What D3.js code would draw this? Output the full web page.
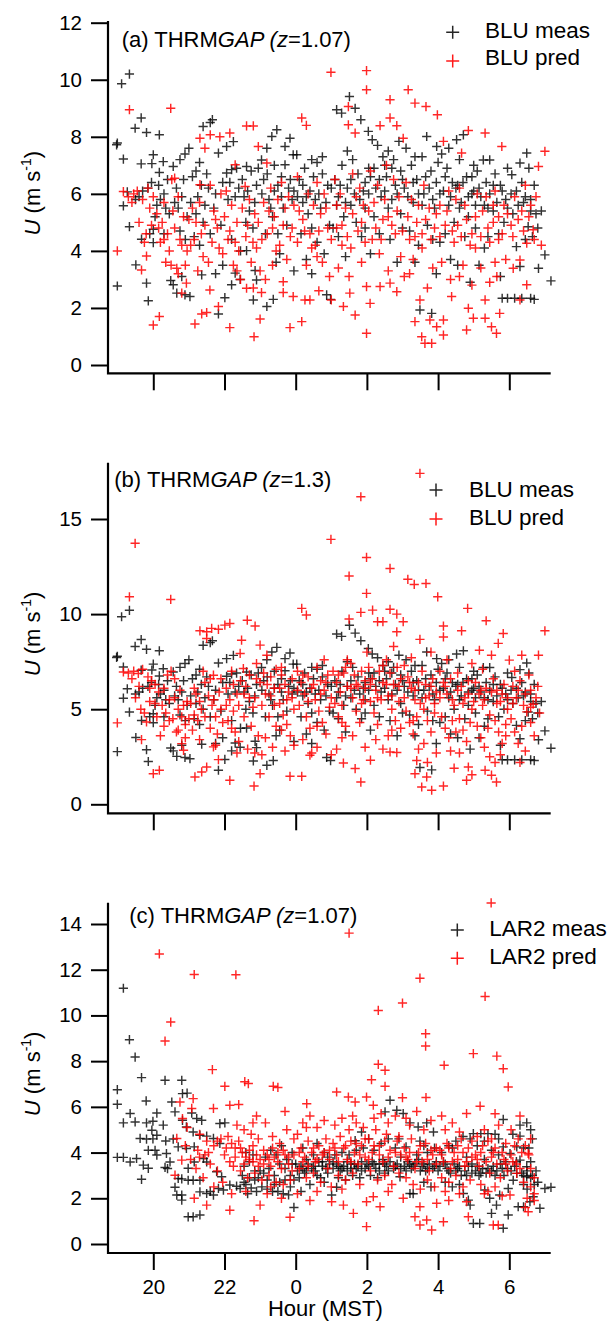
<!DOCTYPE html>
<html><head><meta charset="utf-8">
<script src="https://cdn.jsdelivr.net/npm/d3@7"></script>
<style>body{margin:0;background:#fff}svg{display:block}</style>
</head><body><svg id="chart" width="612" height="1324"></svg>
<script>
// ---------- DATA (hour of night, continuous: 24 = 0 h MST next day; U in m/s) ----------
const hourTickValues = [20, 22, 24, 26, 28, 30];
const hourTickLabels = ["20", "22", "0", "2", "4", "6"];
const yTicksA = [0, 2, 4, 6, 8, 10, 12];
const yTicksB = [0, 5, 10, 15];
const yTicksC = [0, 2, 4, 6, 8, 10, 12, 14];

const bluMeas = [
[18.99,7.78],[18.97,7.72],[19.16,7.22],[19.11,9.86],[19.33,10.2],[19.16,5.58],[19.33,4.85],[19.51,3.51],[18.99,2.77],[19.27,6.07],[19.49,8.3],[19.66,8.66],[19.67,4.41],
[19.81,8.15],[19.66,7.05],[19.81,2.87],[19.86,2.25],[20.0,4.29],[20.0,4.76],[20.0,7.37],[19.96,7.06],[19.7,6.1],[19.85,6.2],[19.6,5.9],[19.9,4.6],
[20.17,8.07],[20.28,7.13],[20.17,6.75],[20.56,6.96],[20.49,2.96],[20.1,5.6],[20.2,5.8],[20.35,5.5],[20.45,5.3],[20.3,6.0],[20.3,4.6],[20.05,5.2],
[20.75,7.2],[20.89,7.4],[21.0,7.6],[20.66,2.52],[20.56,2.81],[20.89,2.46],[21.03,2.4],[20.6,5.7],[20.7,5.5],[20.8,5.9],[20.9,4.4],[20.75,4.7],[20.95,5.2],[20.8,3.1],
[21.3,7.1],[21.4,8.36],[21.36,3.16],[21.1,6.6],[21.2,6.8],[21.25,5.9],[21.4,5.0],[21.15,4.5],[21.3,4.2],[21.45,5.6],
[21.6,8.5],[21.66,8.6],[21.83,7.43],[21.83,1.79],[21.55,6.2],[21.7,5.5],[21.6,4.6],[21.9,4.9],[21.95,3.5],[21.75,3.2],
[22.06,7.66],[22.25,7.83],[22.06,6.73],[22.2,6.85],[22.34,6.9],[22.01,2.36],[22.2,2.81],[22.3,3.22],[22.1,5.8],[22.4,6.2],[22.2,4.4],[22.45,4.0],[22.44,3.0],
[22.62,6.96],[22.75,6.8],[22.62,4.01],[22.86,3.31],[22.9,2.98],[22.81,2.28],[22.7,5.4],[22.55,5.9],[22.9,6.3],[22.8,4.8],
[23.04,7.19],[23.19,7.6],[23.33,8.01],[23.47,8.25],[23.19,2.05],[23.37,2.3],[23.1,6.5],[23.25,5.8],[23.4,6.1],[23.15,4.6],[23.35,5.2],[23.45,3.6],
[23.7,7.66],[23.84,7.95],[23.93,7.37],[23.7,7.02],[23.6,6.6],[23.8,6.2],[23.65,5.5],[23.9,5.8],[23.75,4.9],[23.55,3.9],[23.95,3.3],
[24.03,7.37],[24.1,6.5],[24.25,6.9],[24.2,5.7],[24.4,6.1],[24.35,5.3],[24.15,4.6],[24.3,3.7],[24.45,3.2],[24.45,7.2],
[24.87,2.46],[24.98,2.3],[24.6,7.1],[24.75,6.7],[24.9,6.3],[24.55,5.8],[24.7,5.5],[24.6,4.3],[24.8,3.9],[24.95,4.9],
[25.15,8.95],[25.29,8.83],[25.51,9.41],[25.1,6.5],[25.3,7.0],[25.2,5.9],[25.45,6.2],[25.35,5.2],[25.05,4.8],[25.4,3.8],[25.45,7.5],
[25.67,9.0],[25.83,8.6],[26.04,8.19],[25.6,7.2],[25.75,6.7],[25.9,6.1],[25.55,5.6],[25.85,4.5],[25.7,5.0],[25.95,6.4],
[26.15,7.9],[26.3,7.7],[26.45,7.3],[26.1,6.6],[26.25,6.2],[26.4,5.9],[26.2,5.2],[26.35,4.6],[26.1,3.9],[26.05,6.9],
[26.9,7.84],[26.6,7.5],[26.75,7.2],[26.55,6.6],[26.8,6.3],[26.7,5.8],[26.95,5.3],[26.65,4.4],[26.85,3.6],[26.95,6.8],
[27.1,7.6],[27.25,7.0],[27.4,6.5],[27.05,6.2],[27.3,5.7],[27.2,4.7],[27.45,4.2],[27.35,3.6],[27.49,1.93],
[27.68,8.01],[27.96,7.66],[27.55,7.3],[27.8,6.8],[27.6,6.0],[27.9,5.5],[27.7,4.9],[27.85,4.4],[27.82,1.81],[27.95,3.2],
[28.52,7.9],[28.1,7.4],[28.25,6.9],[28.4,6.4],[28.15,6.1],[28.3,5.6],[28.45,5.0],[28.05,4.3],[28.35,3.7],[28.3,7.6],
[28.71,8.07],[28.6,7.2],[28.8,6.6],[28.95,6.0],[28.65,5.7],[28.85,5.2],[28.75,4.5],[28.55,3.5],[28.9,2.9],[28.55,6.3],
[29.27,7.19],[29.45,7.19],[29.1,6.8],[29.35,6.4],[29.2,5.9],[29.4,5.5],[29.05,4.8],[29.3,4.1],[29.15,3.5],[29.0,6.1],
[29.6,6.7],[29.75,6.3],[29.9,5.8],[29.55,5.4],[29.7,4.6],[29.75,3.1],[29.8,2.34],[29.95,2.34],[29.85,5.0],[29.95,6.9],
[30.49,7.43],[30.3,7.08],[30.07,6.67],[30.2,6.1],[30.4,5.7],[30.53,4.85],[30.2,4.15],[30.3,3.45],[30.15,2.34],[30.35,2.34],[30.1,5.3],
[30.6,2.34],[30.7,2.3],[31.0,3.86],[30.82,3.39],[31.17,2.95],[30.6,5.8],[30.7,6.3],[30.75,5.3],[30.65,4.5],[30.55,6.9],
[19.5,5.8],[19.95,6.4],[20.15,6.3],[20.4,6.5],[20.65,6.2],[20.85,6.5],[21.05,5.7],[21.35,6.3],[21.5,6.7],[21.75,6.0],[21.95,6.4],[22.15,6.4],[22.3,5.9],[22.5,6.5],[22.65,6.1],[22.85,5.7],[22.95,6.9],[23.05,6.0],[23.2,6.7],[23.3,5.5],
[23.5,6.3],[23.6,5.9],[23.85,6.5],[23.95,6.1],[24.05,5.9],[24.2,6.3],[24.3,5.9],[24.5,6.6],[24.65,6.0],[24.85,5.7],[25.0,6.2],[25.15,5.6],[25.25,6.3],[25.4,5.7],[25.55,6.5],[25.65,6.0],[25.8,5.8],[25.95,5.5],[26.05,6.0],[26.2,6.9],
[26.35,6.5],[26.5,6.1],[26.6,5.5],[26.7,6.9],[26.85,6.0],[27.0,6.5],[27.15,5.9],[27.3,6.4],[27.45,6.0],[27.55,5.6],[27.65,6.6],[27.75,6.2],[27.85,5.8],[27.95,6.4],[28.05,6.0],[28.2,6.6],[28.35,5.9],[28.5,6.2],[28.6,5.5],[28.7,6.4],
[28.85,5.9],[28.95,6.6],[29.05,5.6],[29.15,6.2],[29.3,5.6],[29.45,6.0],[29.55,6.3],[29.65,5.7],[29.8,6.1],[29.95,5.5],[30.05,6.0],[30.25,5.6],[30.35,6.4],[30.45,5.9],[30.6,5.4],[30.8,4.8],[30.9,5.4],[30.45,4.4],[29.4,4.5],[28.2,4.6],
[27.0,4.8],[25.95,4.8],[25.2,4.5],[24.45,4.8],[23.5,4.6],[22.6,5.0],[21.2,5.3],[26.5,7.0],[27.35,7.3],[28.0,7.1],[29.0,7.0],[24.75,7.3],[23.4,7.0]
];

const bluPredZ107 = [
[19.33,8.95],[19.16,6.08],[18.99,4.0],[19.3,5.9],[19.45,6.0],[19.4,5.7],[19.67,3.33],
[19.81,3.82],[20.0,1.4],[19.55,6.1],[19.7,5.8],[19.9,5.5],[19.85,6.2],[19.95,4.9],[19.75,4.3],
[20.17,1.7],[20.49,9.0],[20.52,6.5],[20.6,6.55],[20.1,5.3],[20.25,5.0],[20.4,4.6],[20.2,4.3],[20.45,4.0],[20.35,3.6],[20.3,5.7],
[20.66,3.39],[20.93,2.87],[20.8,2.52],[20.7,5.9],[20.85,5.2],[20.6,4.8],[20.75,4.4],[20.95,4.0],[20.9,3.5],[20.7,3.2],
[21.17,1.44],[21.36,1.79],[21.31,7.95],[21.45,7.6],[21.31,6.32],[21.1,5.5],[21.2,5.0],[21.35,4.6],[21.05,4.2],[21.4,3.8],[21.25,3.3],
[21.5,1.84],[21.59,2.63],[21.83,2.05],[21.6,8.07],[21.87,8.0],[21.6,6.3],[21.9,6.0],[21.7,5.4],[21.8,4.8],[21.65,4.3],[21.95,3.9],
[22.15,1.31],[22.15,8.13],[22.3,7.02],[22.05,6.1],[22.2,5.6],[22.35,5.0],[22.1,4.4],[22.4,4.0],[22.25,3.5],[22.45,3.0],
[22.83,0.99],[22.62,2.69],[22.81,2.7],[22.62,8.38],[22.81,8.38],[22.95,7.66],[22.58,6.26],[22.7,5.8],[22.85,5.3],[22.6,4.5],[22.9,4.1],[22.75,3.6],
[23.0,1.61],[23.04,2.54],[23.19,7.08],[23.3,6.2],[23.1,5.7],[23.4,5.2],[23.2,4.6],[23.45,4.0],[23.35,3.5],[23.15,3.0],
[23.84,1.31],[23.65,2.54],[23.65,2.92],[23.93,2.4],[23.6,6.4],[23.8,5.9],[23.7,5.5],[23.9,4.8],[23.55,4.2],[23.75,3.7],
[24.17,8.66],[24.3,8.4],[24.17,1.52],[24.26,2.28],[24.4,2.28],[24.05,6.6],[24.35,6.0],[24.1,5.4],[24.25,4.7],[24.45,4.1],[24.3,3.5],
[25.0,2.28],[24.6,6.4],[24.8,6.0],[24.7,5.3],[24.9,4.8],[24.55,4.2],[24.75,3.6],[24.95,3.1],[24.65,2.6],
[24.99,10.26],[25.48,9.06],[25.48,8.42],[25.34,2.05],[25.52,2.52],[25.1,6.5],[25.25,6.0],[25.4,5.5],[25.15,4.8],[25.3,4.2],[25.2,3.4],
[25.67,8.13],[25.67,1.75],[25.99,10.32],[25.99,9.65],[25.99,2.75],[25.6,6.7],[25.8,6.2],[25.9,5.6],[25.75,4.7],[25.55,4.1],[25.85,3.6],
[26.37,8.39],[26.09,2.16],[25.99,1.11],[26.37,2.75],[26.1,6.8],[26.3,6.3],[26.2,5.7],[26.45,5.1],[26.15,4.4],[26.35,3.9],
[26.65,9.3],[26.65,8.66],[26.84,8.39],[26.65,2.87],[26.84,2.57],[26.55,7.0],[26.75,6.5],[26.9,5.9],[26.6,5.2],[26.8,4.6],[26.95,3.8],
[27.16,9.65],[27.35,9.18],[27.02,7.95],[27.49,2.28],[27.35,1.52],[27.54,0.99],[27.1,6.4],[27.25,5.8],[27.4,5.0],[27.2,4.4],[27.3,3.7],[27.05,3.1],
[27.66,9.06],[27.98,8.77],[27.63,0.76],[27.82,0.76],[27.96,1.34],[27.77,1.58],[27.6,6.3],[27.75,5.5],[27.9,4.8],[27.55,4.1],[27.85,3.4],[27.7,2.7],
[28.15,1.05],[28.15,1.58],[28.15,7.84],[28.38,2.4],[28.3,6.1],[28.05,5.6],[28.2,4.9],[28.45,4.3],[28.1,3.6],[28.35,3.0],
[28.85,8.22],[28.66,7.43],[28.85,1.99],[28.8,1.23],[28.99,1.64],[28.6,6.2],[28.75,5.6],[28.55,4.9],[28.9,4.2],[28.7,3.5],[28.95,2.8],
[29.32,8.13],[29.32,1.64],[29.5,1.34],[29.32,2.28],[29.1,6.0],[29.25,5.4],[29.4,4.8],[29.05,4.1],[29.2,3.4],[29.45,2.9],
[29.79,7.66],[29.64,1.11],[29.73,1.81],[29.6,6.1],[29.85,5.6],[29.55,5.0],[29.7,4.4],[29.9,3.7],[29.65,3.1],
[30.11,3.39],[30.3,3.68],[30.3,2.28],[30.49,4.27],[30.49,2.81],[30.15,5.9],[30.35,5.4],[30.05,4.9],[30.45,6.3],
[30.67,4.74],[31.0,7.49],[30.82,6.96],[30.6,5.6],[30.75,5.9],[30.9,4.2],
[19.6,5.0],[19.8,4.6],[20.0,5.9],[20.15,4.8],[20.3,4.4],[20.55,5.4],[20.8,4.2],[21.0,5.1],[21.15,4.4],[21.3,5.7],[21.45,4.9],[21.55,3.6],[21.75,5.1],[21.85,4.1],[22.0,5.2],[22.15,4.7],[22.3,4.3],[22.5,5.5],[22.65,4.9],[22.8,4.3],
[22.95,5.0],[23.05,4.4],[23.25,5.4],[23.35,4.8],[23.5,5.8],[23.65,4.9],[23.85,4.5],[23.95,5.6],[24.05,4.3],[24.2,5.1],[24.4,4.6],[24.5,5.6],[24.65,4.7],[24.85,5.5],[25.0,4.4],[25.15,5.6],[25.3,4.9],[25.45,4.5],[25.6,5.3],[25.7,5.9],
[25.85,5.0],[25.95,4.3],[26.05,5.4],[26.25,4.8],[26.4,4.4],[26.5,5.8],[26.7,4.9],[26.85,5.4],[27.0,4.7],[27.15,5.2],[27.35,4.5],[27.45,5.6],[27.55,4.6],[27.65,5.1],[27.8,4.4],[27.95,5.3],[28.05,4.5],[28.25,5.4],[28.4,4.7],[28.5,5.8],
[28.65,4.5],[28.8,5.1],[28.95,4.6],[29.05,5.2],[29.2,4.5],[29.35,5.9],[29.45,4.3],[29.55,5.6],[29.7,5.2],[29.8,4.6],[29.95,5.3],[30.1,4.5],[30.25,5.1],[30.4,4.7],[30.55,5.2],[30.7,4.4],[24.6,3.8],[26.6,3.3],[28.6,3.1],[22.35,3.3],
[20.5,3.5],[29.6,3.6],[27.2,3.2],[25.5,3.1],[23.0,3.3]
];

const bluPredZ13 = [
[18.99,4.28],[19.16,6.96],[19.49,13.72],[19.33,10.91],[19.3,6.9],[19.45,7.0],[19.4,6.6],
[19.58,6.88],[19.81,4.33],[19.67,3.4],[20.0,1.61],[19.7,7.1],[19.85,6.7],[19.95,6.5],[19.6,6.2],[19.9,5.4],[19.75,4.8],
[20.17,1.79],[20.49,10.77],[20.05,6.3],[20.15,5.9],[20.25,5.2],[20.35,4.8],[20.45,4.4],[20.3,4.1],[20.2,3.6],[20.4,6.8],[20.5,7.0],[20.1,4.6],
[20.8,3.19],[20.85,2.84],[20.6,5.6],[20.7,5.0],[20.8,4.6],[20.9,4.2],[20.65,3.8],[20.95,5.4],[20.75,6.0],[20.55,4.5],[20.9,3.5],
[21.17,1.44],[21.36,1.7],[21.31,9.12],[21.05,5.3],[21.15,4.7],[21.25,4.4],[21.35,5.0],[21.45,6.4],[21.1,3.9],[21.3,3.4],[21.4,7.0],[21.2,5.8],
[21.5,1.96],[21.83,2.35],[21.69,3.02],[21.75,3.1],[21.5,9.07],[21.64,9.25],[21.83,9.2],[21.69,6.79],[21.5,8.72],[21.55,5.7],[21.65,5.2],[21.75,4.6],[21.85,5.9],[21.95,4.3],[21.6,4.0],[21.9,6.6],[21.8,3.7],
[22.15,1.26],[22.01,9.42],[22.15,9.51],[22.48,8.63],[22.44,7.93],[22.05,6.1],[22.15,5.5],[22.25,4.9],[22.35,5.8],[22.45,6.5],[22.1,4.4],[22.3,3.8],[22.4,3.3],[22.2,7.0],[22.35,2.7],
[22.83,0.96],[22.64,9.68],[22.86,9.37],[22.53,7.14],[23.0,8.37],[22.6,6.2],[22.7,5.6],[22.8,5.1],[22.9,6.6],[22.55,4.6],[22.75,4.1],[22.95,3.6],[22.65,2.9],[22.85,2.7],[22.9,7.4],
[23.0,1.61],[23.19,7.84],[23.1,6.9],[23.2,6.3],[23.3,5.7],[23.4,6.1],[23.05,5.2],[23.25,4.6],[23.45,4.1],[23.15,3.5],[23.35,3.0],[23.45,7.1],[23.05,2.6],
[23.84,1.47],[23.6,6.8],[23.7,6.3],[23.8,5.9],[23.9,6.6],[23.55,5.3],[23.65,4.7],[23.75,4.2],[23.85,3.6],[23.95,3.1],[23.7,2.8],[23.6,7.2],[23.95,5.0],
[24.17,1.47],[24.4,2.58],[24.17,10.3],[24.3,9.95],[24.05,7.0],[24.15,6.4],[24.25,5.8],[24.35,6.7],[24.45,6.1],[24.1,5.2],[24.3,4.6],[24.4,4.0],[24.2,3.4],[24.45,2.7],
[24.99,13.93],[24.6,7.2],[24.7,6.5],[24.8,6.0],[24.9,6.8],[24.55,5.5],[24.65,4.9],[24.75,4.3],[24.85,3.7],[24.95,5.1],[24.6,3.0],[24.8,7.6],[25.0,2.6],
[25.34,2.17],[25.5,12.0],[25.5,9.74],[25.05,7.0],[25.15,6.4],[25.25,5.9],[25.35,6.9],[25.45,6.2],[25.1,5.3],[25.2,4.6],[25.4,4.1],[25.3,3.5],[25.45,7.6],[25.15,2.9],
[25.67,1.88],[25.83,1.17],[25.83,16.17],[25.99,12.98],[25.99,11.09],[25.83,10.09],[25.55,7.4],[25.65,6.8],[25.75,6.2],[25.85,7.0],[25.95,6.5],[25.6,5.6],[25.7,4.9],[25.8,4.3],[25.9,5.5],[25.6,3.6],[25.95,3.0],
[26.1,2.32],[26.16,10.21],[26.3,9.6],[26.45,9.6],[26.05,7.2],[26.15,6.6],[26.25,6.0],[26.35,7.0],[26.45,6.4],[26.1,5.4],[26.2,4.8],[26.3,4.2],[26.4,5.5],[26.25,3.4],[26.45,2.9],[26.0,8.0],
[26.65,2.75],[26.84,2.72],[26.65,12.4],[26.65,10.25],[26.84,10.0],[26.84,9.07],[26.55,7.6],[26.65,6.9],[26.75,6.3],[26.85,7.2],[26.95,6.6],[26.6,5.7],[26.7,5.0],[26.8,4.4],[26.9,5.4],[26.6,3.6],[26.95,4.0],[26.75,8.3],
[27.35,1.61],[27.49,17.4],[27.15,11.83],[27.33,11.56],[27.02,9.6],[27.49,8.67],[27.05,7.3],[27.15,6.7],[27.25,6.1],[27.35,5.5],[27.45,6.4],[27.1,4.9],[27.2,4.3],[27.3,3.7],[27.4,4.6],[27.45,2.9],[27.25,7.7],[27.4,2.3],
[27.54,0.91],[27.82,0.74],[27.68,1.44],[27.66,11.61],[27.99,10.91],[27.55,7.0],[27.65,6.3],[27.75,5.7],[27.85,6.6],[27.95,5.9],[27.6,5.0],[27.7,4.4],[27.8,3.8],[27.9,4.8],[27.6,3.2],[27.95,2.7],[27.8,8.0],[27.7,2.2],
[28.15,0.96],[28.15,9.37],[28.15,8.8],[28.05,7.0],[28.15,6.4],[28.25,5.8],[28.35,6.6],[28.45,5.2],[28.1,4.6],[28.2,4.0],[28.3,3.5],[28.4,4.4],[28.35,2.8],[28.45,1.9],[28.25,7.6],
[28.8,1.26],[28.85,1.96],[28.95,1.55],[28.83,10.3],[28.66,9.12],[28.55,6.9],[28.65,6.2],[28.75,5.6],[28.85,6.5],[28.95,5.0],[28.6,4.5],[28.7,3.9],[28.8,3.3],[28.9,4.3],[28.6,2.7],[28.95,7.4],
[29.16,8.1],[29.35,9.65],[29.32,1.79],[29.5,1.53],[29.05,6.4],[29.15,5.8],[29.25,5.2],[29.35,6.1],[29.45,4.7],[29.1,4.1],[29.2,3.5],[29.3,3.0],[29.4,4.0],[29.45,2.5],[29.5,7.84],[29.25,7.1],
[29.64,1.17],[29.69,8.46],[29.83,8.98],[29.55,6.6],[29.65,6.0],[29.75,5.4],[29.85,6.3],[29.95,5.0],[29.6,4.4],[29.7,3.8],[29.8,3.2],[29.9,4.2],[29.75,2.6],[29.6,2.2],[30.0,7.58],
[30.35,7.84],[30.49,4.86],[30.1,6.2],[30.2,5.6],[30.3,6.5],[30.4,5.2],[30.05,4.5],[30.15,3.8],[30.25,3.2],[30.35,4.1],[30.45,2.8],[30.3,2.2],[30.15,7.0],
[30.67,5.26],[30.82,7.84],[31.0,9.12],[30.6,6.0],[30.75,5.6],[30.6,4.3],[30.7,3.6],[30.55,6.8],[30.85,4.8],
[19.5,5.6],[19.65,5.0],[19.9,6.1],[20.05,5.3],[20.3,6.1],[20.45,5.5],[20.6,6.6],[20.85,5.2],[21.0,4.5],[21.15,6.1],[21.3,5.4],[21.45,4.6],[21.6,6.6],[21.7,5.5],[21.9,5.0],[22.05,5.2],[22.25,6.3],[22.4,5.2],[22.55,5.8],[22.7,6.8],
[22.85,5.6],[23.0,6.4],[23.15,5.8],[23.3,6.7],[23.4,5.2],[23.55,6.1],[23.75,5.5],[23.9,5.6],[24.05,6.0],[24.2,6.8],[24.35,5.4],[24.5,6.3],[24.7,5.8],[24.85,6.4],[25.0,5.6],[25.2,6.8],[25.3,5.2],[25.4,7.2],[25.55,6.1],[25.7,6.3],
[25.85,5.3],[25.95,6.1],[26.1,6.3],[26.3,5.6],[26.45,7.3],[26.55,6.3],[26.7,5.7],[26.9,6.2],[27.05,5.6],[27.2,6.4],[27.35,6.0],[27.5,5.3],[27.65,5.6],[27.8,6.2],[27.9,5.3],[28.05,5.6],[28.2,6.2],[28.4,5.5],[28.55,6.0],[28.7,5.3],
[28.85,5.8],[29.0,5.4],[29.2,6.0],[29.3,5.5],[29.5,5.9],[29.65,5.3],[29.8,5.8],[29.95,5.6],[30.1,5.3],[30.25,6.0],[30.45,5.8],[30.6,5.1],[30.8,6.2],[22.2,4.0],[24.6,4.1],[26.7,3.9],[28.5,3.8],[29.9,3.6],[27.3,4.4],[25.3,4.3],
[23.6,3.9],[20.7,3.9]
];

const lar2Meas = [
[18.99,6.75],[18.99,6.11],[19.16,11.19],[19.33,8.94],[19.49,8.18],[19.67,7.28],[19.16,5.3],[19.35,5.71],[19.49,5.34],[19.81,5.3],[19.8,6.26],[20.1,5.73],[19.99,5.37],[19.96,4.98],[20.28,5.2],
[19.63,4.62],[19.81,4.59],[19.99,4.6],[20.1,4.76],[20.35,4.51],[20.56,4.59],[20.7,4.25],[19.86,4.1],[20.05,4.1],[20.1,3.89],[20.37,3.96],[18.99,3.79],[19.16,3.79],[19.35,3.59],[19.53,3.74],
[19.72,3.45],[19.86,3.31],[19.67,2.83],[20.33,3.35],[20.4,3.3],[20.47,3.59],[20.61,2.48],[20.66,2.14],[20.8,2.14],[20.8,1.92],[20.7,2.87],[20.8,2.85],[20.98,2.79],[21.12,2.79],[21.31,2.79],
[20.98,1.19],[21.12,1.19],[21.31,1.27],[20.33,7.16],[20.8,7.16],[20.82,6.58],[20.95,6.6],[20.52,6.21],[20.61,5.78],[20.82,5.41],[21.08,5.73],[21.22,5.49],[21.36,5.41],[20.93,5.12],[21.12,4.9],
[21.31,4.76],[21.5,4.72],[20.93,4.18],[21.15,4.25],[20.98,3.31],[21.15,3.59],[21.41,3.74],[21.5,3.59],[21.87,5.27],[22.01,5.3],[21.69,4.62],[21.87,4.4],[21.78,3.16],[21.92,2.94],
[21.31,2.28],[21.5,2.21],[21.69,2.14],[21.6,2.3],[21.83,2.43],[21.97,2.36],[22.15,2.58],[22.34,2.53],[22.44,2.43],
[22.6,2.6],[22.75,2.45],[22.9,2.3],[22.55,3.4],[22.7,3.6],[22.85,3.2],[22.95,2.9],[22.6,4.0],[22.8,3.9],[22.5,3.0],[22.65,2.2],
[23.05,2.5],[23.2,2.4],[23.35,2.3],[23.5,2.3],[23.65,2.2],[23.8,2.15],[23.95,1.6],[23.1,3.1],[23.25,3.3],[23.4,3.0],[23.55,3.5],[23.7,3.3],[23.85,3.0],[23.15,3.8],[23.45,3.9],[23.75,3.7],[23.9,3.5],[23.3,4.1],[23.6,4.3],[23.95,2.8],
[24.05,3.2],[24.15,3.4],[24.25,3.1],[24.35,3.5],[24.45,3.3],[24.55,3.2],[24.65,3.6],[24.75,3.4],[24.85,3.3],[24.95,3.5],[24.1,2.9],[24.3,3.7],[24.5,3.9],[24.7,2.9],[24.9,3.8],[24.2,4.2],[24.6,4.4],[24.4,2.6],[24.8,2.7],[24.15,2.3],
[25.01,2.14],[25.15,2.48],[25.05,3.3],[25.15,3.5],[25.25,3.2],[25.35,3.4],[25.45,3.6],[25.55,3.3],[25.65,3.5],[25.75,3.4],[25.85,3.6],[25.95,3.3],[25.1,3.9],[25.3,4.0],[25.5,3.9],[25.67,4.52],[25.85,4.9],[25.2,2.9],[25.4,2.8],[25.6,3.0],[25.8,2.9],[25.9,4.2],
[26.05,3.4],[26.15,3.6],[26.25,3.3],[26.35,3.5],[26.45,3.7],[26.55,3.4],[26.65,3.6],[26.75,3.3],[26.85,3.5],[26.95,3.8],[26.1,3.0],[26.3,2.9],[26.5,3.1],[26.93,2.94],[26.2,4.1],[26.4,4.4],[26.65,6.29],[26.51,5.78],[26.84,5.85],[26.6,4.6],[26.8,4.2],[26.05,4.6],
[27.02,5.71],[27.21,5.3],[27.44,5.12],[27.68,5.3],[27.87,4.9],[27.49,4.5],[27.1,4.25],[27.05,3.4],[27.15,3.6],[27.25,3.3],[27.35,3.5],[27.45,3.7],[27.55,3.4],[27.65,3.2],[27.75,3.5],[27.85,3.3],[27.95,3.6],[27.21,2.21],[27.3,2.2],[27.6,2.7],[27.8,2.5],[27.4,3.9],[27.7,4.0],[27.9,4.2],
[28.05,3.4],[28.15,3.6],[28.25,3.3],[28.35,3.1],[28.45,3.5],[28.55,3.3],[28.65,3.0],[28.75,3.2],[28.85,3.4],[28.95,3.1],[28.1,4.0],[28.3,4.3],[28.5,4.5],[28.7,4.7],[28.9,4.6],[28.2,2.7],[28.4,2.5],[28.71,2.21],[28.85,1.92],[28.9,1.7],[28.6,2.6],[28.99,0.9],[28.8,3.8],
[29.17,0.9],[29.05,3.2],[29.15,3.0],[29.25,3.3],[29.35,3.1],[29.45,2.0],[29.31,2.36],[29.55,3.4],[29.65,3.2],[29.75,3.5],[29.85,3.0],[29.95,3.3],[28.99,4.83],[29.2,4.83],[29.4,4.83],[29.6,4.8],[29.83,5.45],[29.1,4.3],[29.5,4.1],[29.83,4.25],[29.73,2.14],[29.97,2.43],[29.3,3.7],[29.7,3.9],
[30.11,2.79],[30.21,3.09],[30.49,3.38],[30.49,2.94],[30.6,2.9],[30.3,3.67],[30.02,3.96],[30.21,4.25],[30.3,4.72],[30.49,5.3],[30.1,4.8],[30.6,3.6],[30.4,2.6],[30.67,2.07],[30.86,1.56],[31.0,2.43],[31.17,2.48],[30.58,1.85],[30.25,1.63],[30.4,1.63],[29.97,1.27],[29.83,0.69],[29.64,1.7],[29.5,1.34],[30.75,3.2],[30.55,4.2],[30.15,3.4],[30.35,3.1],
[22.55,2.7],[22.7,2.9],[22.85,2.8],[23.0,3.2],[23.2,2.8],[23.4,2.6],[23.55,2.7],[23.7,2.8],[23.85,2.5],[24.0,3.5],[24.2,3.3],[24.3,3.2],[24.5,3.4],[24.6,3.0],[24.75,3.6],[24.9,3.1],[25.05,3.6],[25.2,3.4],[25.3,3.3],[25.45,3.2],
[25.55,3.5],[25.7,3.3],[25.85,3.2],[26.0,3.5],[26.2,3.5],[26.35,3.2],[26.5,3.5],[26.6,3.2],[26.8,3.4],[26.95,3.3],[27.1,3.2],[27.2,3.5],[27.3,3.4],[27.5,3.2],[27.6,3.5],[27.7,3.3],[27.9,3.4],[28.0,3.2],[28.2,3.5],[28.3,3.2],
[28.5,3.2],[28.6,3.4],[28.8,3.0],[28.95,3.5],[29.1,3.4],[29.2,3.1],[29.4,3.3],[29.5,3.2],[29.6,3.0],[29.8,3.3],[29.9,3.6],[30.05,3.2],[30.2,3.6],[30.4,3.0],[30.5,3.2],[30.65,3.0],[30.7,2.6],[30.5,2.4],[30.8,2.7],[30.4,4.2],
[30.65,4.6],[30.6,5.0],[30.3,5.2],[29.7,4.6],[29.3,4.5],[28.4,4.2],[27.6,4.3],[26.9,4.6],[25.7,4.1],[24.8,4.0],[23.9,4.0]
];

const lar2Pred = [
[20.17,12.69],[21.15,11.79],[22.32,11.78],[20.49,9.71],[20.33,8.88],[21.66,7.63],[22.57,7.1],[29.49,14.92],[25.5,13.6],[27.49,11.63],[27.0,10.54],[26.32,10.22],[29.32,10.83],[27.65,9.2],[27.65,8.66],[28.99,8.33],[29.65,8.22],[29.83,7.67],[28.17,7.82],[26.32,7.86],[26.51,7.6],[26.13,7.19],
[20.75,6.21],[21.08,5.93],[21.12,6.36],[21.69,5.93],[22.01,6.9],[22.15,6.07],[22.67,7.02],[23.37,6.9],[23.5,6.85],[20.82,5.49],[20.66,4.62],[20.8,3.67],[20.61,3.01],[21.15,2.0],[21.5,1.7],[22.15,1.48],[22.83,1.02],[23.0,1.7],[23.84,1.17],
[20.95,5.1],[21.3,4.8],[21.5,4.5],[21.7,4.3],[21.9,4.6],[21.25,4.1],[21.45,3.9],[21.6,3.5],[21.8,3.2],[22.0,3.9],[21.2,3.3],[21.4,2.9],[21.05,3.7],[20.9,4.3],[21.95,2.7],[21.7,2.5],
[22.1,4.7],[22.2,4.4],[22.3,4.2],[22.4,4.5],[22.5,4.0],[22.6,3.8],[22.7,4.1],[22.8,3.6],[22.9,3.9],[23.0,3.7],[23.1,3.5],[23.2,3.9],[23.3,3.4],[23.4,3.8],[23.5,3.6],[23.6,3.3],[23.7,3.9],[23.8,3.5],[23.9,3.2],
[22.25,3.4],[22.45,3.2],[22.65,2.9],[22.85,3.1],[23.05,2.8],[23.25,3.0],[23.45,2.7],[23.65,2.6],[23.85,2.8],[22.35,5.2],[22.55,5.0],[22.75,4.8],[22.95,4.6],[23.15,5.3],[23.35,4.7],[23.55,4.4],[23.75,5.0],[23.95,4.6],[22.2,2.2],[22.6,2.3],[23.2,2.2],[23.6,2.0],[22.9,5.6],[23.7,5.8],[22.4,6.1],
[24.31,6.14],[24.05,4.8],[24.15,4.2],[24.25,3.8],[24.35,4.5],[24.45,4.0],[24.55,3.6],[24.65,4.3],[24.75,3.9],[24.85,4.6],[24.95,4.1],[24.1,3.3],[24.3,2.9],[24.5,3.1],[24.7,2.7],[24.9,3.3],[24.2,5.3],[24.4,5.6],[24.6,5.1],[24.8,5.4],[24.05,2.2],[24.4,1.9],[24.6,2.3],
[25.15,6.65],[25.48,6.43],[25.67,6.21],[25.99,6.43],[25.01,1.85],[25.34,1.7],[25.62,1.34],[25.99,1.85],[25.99,0.76],[25.05,4.4],[25.15,3.9],[25.25,4.7],[25.35,4.2],[25.45,3.7],[25.55,4.5],[25.65,4.0],[25.75,3.5],[25.85,4.3],[25.95,3.8],[25.1,5.2],[25.3,5.5],[25.5,5.0],[25.7,5.3],[25.9,5.1],[25.2,3.0],[25.4,2.8],[25.6,3.1],[25.8,2.6],[25.0,2.5],
[26.18,6.07],[26.51,6.9],[27.66,6.41],[26.18,2.07],[26.37,1.63],[27.02,2.0],[27.35,1.19],[27.49,0.83],[27.68,1.05],[27.82,0.61],[27.49,1.63],[27.96,1.78],
[26.05,4.6],[26.15,4.0],[26.25,5.0],[26.35,4.3],[26.45,3.6],[26.55,4.8],[26.65,4.1],[26.75,3.4],[26.85,4.5],[26.95,3.9],[26.1,3.2],[26.3,2.8],[26.5,3.0],[26.7,2.6],[26.9,3.1],[26.2,5.5],[26.4,5.7],[26.6,5.3],[26.8,5.6],
[27.05,4.2],[27.15,3.7],[27.25,4.6],[27.35,3.3],[27.45,4.0],[27.55,3.6],[27.65,4.4],[27.75,3.2],[27.85,3.9],[27.95,3.5],[27.1,2.9],[27.3,2.6],[27.5,2.4],[27.7,2.8],[27.9,2.5],[27.2,5.2],[27.4,5.8],[27.6,5.0],[27.8,5.4],[27.0,6.4],
[28.15,0.97],[28.8,1.85],[28.85,1.19],[28.05,4.1],[28.15,3.6],[28.25,4.4],[28.35,3.3],[28.45,4.0],[28.55,3.7],[28.65,4.6],[28.75,3.4],[28.85,4.2],[28.95,3.8],[28.1,2.9],[28.3,2.7],[28.5,3.0],[28.7,2.5],[28.9,2.8],[28.2,5.0],[28.4,5.3],[28.6,4.9],[28.8,5.71],[28.3,1.9],[28.6,2.2],
[29.18,6.03],[29.97,6.87],[29.55,0.83],[29.69,0.83],[30.53,1.41],[30.45,1.6],[30.02,2.14],[30.53,3.96],[30.21,3.09],[29.05,3.9],[29.15,3.4],[29.25,4.3],[29.35,3.6],[29.45,3.1],[29.55,4.0],[29.65,3.5],[29.75,2.9],[29.85,3.7],[29.95,3.2],
[29.1,4.7],[29.3,5.0],[29.5,4.6],[29.7,5.2],[29.9,4.4],[29.2,2.6],[29.4,2.3],[29.6,2.5],[29.8,2.1],[30.1,3.6],[30.3,3.3],[30.4,2.7],[30.6,2.5],[30.7,2.2],[30.15,4.3],[30.35,4.0],[30.6,3.3],[30.7,1.9],[30.05,5.0],[30.3,5.6],[30.6,4.6],
[21.3,3.8],[21.55,4.0],[21.8,4.5],[22.05,4.2],[22.15,3.6],[22.3,3.8],[22.45,4.2],[22.55,3.5],[22.7,3.7],[22.8,4.3],[22.95,3.4],[23.1,4.1],[23.25,3.7],[23.35,4.2],[23.5,4.0],[23.65,4.1],[23.8,3.8],[23.95,3.9],[24.1,4.0],[24.2,3.6],
[24.35,3.4],[24.5,4.2],[24.6,3.7],[24.8,4.0],[24.95,3.7],[25.1,4.2],[25.2,3.6],[25.4,4.3],[25.55,3.6],[25.7,4.4],[25.8,3.9],[25.95,4.6],[26.05,3.7],[26.2,4.3],[26.35,3.9],[26.5,4.5],[26.6,3.8],[26.8,4.0],[26.9,4.7],[27.1,3.8],
[27.2,4.0],[27.4,3.6],[27.5,4.3],[27.7,3.7],[27.8,4.1],[27.95,4.2],[28.1,3.9],[28.3,4.2],[28.4,3.6],[28.55,4.3],[28.7,4.0],[28.8,3.6],[28.95,4.5],[29.1,3.7],[29.2,4.0],[29.4,4.5],[29.5,3.8],[29.6,4.2],[29.8,4.0],[29.9,3.5],
[30.05,3.9],[30.2,3.5],[30.25,4.6],[30.45,4.3],[30.55,3.9],[30.7,2.9],[22.8,5.3],[24.3,5.1],[25.6,5.6],[27.1,5.5],[28.1,5.6],[29.6,5.7],[23.3,2.5],[25.3,2.4],[26.6,2.3],[28.2,2.3],[29.3,2.2],[30.5,2.0]
];

// ---------- LAYOUT ----------
const FONT = "'Liberation Sans', Arial, Helvetica, sans-serif";
const xRange = [108, 550.7];
const xDomain = [18.728, 31.163];
const panels = [
  {meas: bluMeas, pred: bluPredZ107, ticks: yTicksA, ymax: 12, y0: 365, ymaxPx: 22.7, axTop: 21, axBot: 373.3,
   tag: "(a) THRM", z: "1.07", tX: 121.7, tY: 46.7, leg: ["BLU meas", "BLU pred"], lmX: 452.7, lmY: [32.3, 61], ltX: 485, ltY: [38.3, 65], xlabels: false},
  {meas: bluMeas, pred: bluPredZ13, ticks: yTicksB, ymax: 15, y0: 804.3, ymaxPx: 519, axTop: 462.7, axBot: 813.3,
   tag: "(b) THRM", z: "1.3", tX: 114.3, tY: 486.7, leg: ["BLU meas", "BLU pred"], lmX: 436, lmY: [490, 519], ltX: 469, ltY: [496.7, 525], xlabels: false},
  {meas: lar2Meas, pred: lar2Pred, ticks: yTicksC, ymax: 14, y0: 1244, ymaxPx: 924, axTop: 902.7, axBot: 1253,
   tag: "(c) THRM", z: "1.07", tX: 129.3, tY: 922.7, leg: ["LAR2 meas", "LAR2 pred"], lmX: 457.3, lmY: [930, 958.3], ltX: 489.3, ltY: [936, 964], xlabels: true}
];

const svg = d3.select("#chart");
const x = d3.scaleLinear().domain(xDomain).range(xRange);
const plus = (cx, cy, h) => `M${cx - h},${cy}H${cx + h}M${cx},${cy - h}V${cy + h}`;

panels.forEach(p => {
  const g = svg.append("g");
  const y = d3.scaleLinear().domain([0, p.ymax]).range([p.y0, p.ymaxPx]);

  [[p.meas, "#000", 0.8], [p.pred, "#ff0000", 0.85]].forEach(([data, col, op]) => {
    g.append("g").selectAll("path").data(data).join("path")
      .attr("d", d => plus(x(d[0]), y(d[1]), 4.6))
      .attr("fill", "none").attr("stroke", col).attr("stroke-opacity", op).attr("stroke-width", 1.45);
  });

  const gy = g.append("g").attr("transform", `translate(${xRange[0]},0)`)
    .call(d3.axisLeft(y).tickValues(p.ticks).tickSize(17).tickPadding(9).tickFormat(d3.format("d")));
  gy.select(".domain").remove();
  gy.attr("font-family", FONT).attr("font-size", 20.5);
  gy.selectAll(".tick line").attr("stroke", "#000").attr("stroke-width", 2);
  gy.selectAll(".tick text").attr("fill", "#000");

  const gx = g.append("g").attr("transform", `translate(0,${p.axBot})`)
    .call(d3.axisBottom(x).tickValues(hourTickValues).tickSize(17).tickPadding(9)
      .tickFormat((d, i) => p.xlabels ? hourTickLabels[i] : ""));
  gx.select(".domain").remove();
  gx.attr("font-family", FONT).attr("font-size", 20.5);
  gx.selectAll(".tick line").attr("stroke", "#000").attr("stroke-width", 2);
  gx.selectAll(".tick text").attr("fill", "#000");

  g.append("path").attr("d", `M${xRange[0]},${p.axTop}V${p.axBot}H${xRange[1]}`)
    .attr("fill", "none").attr("stroke", "#000").attr("stroke-width", 2.2);

  const cy = (p.axTop + p.axBot) / 2 - 4;
  const yl = g.append("text").attr("transform", `translate(40,${cy}) rotate(-90)`)
    .attr("text-anchor", "middle").attr("font-family", FONT).attr("font-size", 22).attr("fill", "#000");
  yl.append("tspan").attr("font-style", "italic").text("U");
  yl.append("tspan").text(" (m s");
  yl.append("tspan").attr("font-size", 14).attr("dy", -9).text("-1");
  yl.append("tspan").attr("dy", 9).text(")");

  const t = g.append("text").attr("x", p.tX).attr("y", p.tY).attr("font-family", FONT).attr("font-size", 22).attr("fill", "#000");
  t.append("tspan").text(p.tag);
  t.append("tspan").attr("font-style", "italic").text("GAP (z");
  t.append("tspan").text("=" + p.z + ")");

  [["#000", 0.85], ["#ff0000", 0.9]].forEach(([col, op], i) => {
    g.append("path").attr("d", plus(p.lmX, p.lmY[i], 6.5))
      .attr("stroke", col).attr("stroke-opacity", op).attr("stroke-width", 1.5).attr("fill", "none");
    g.append("text").attr("x", p.ltX).attr("y", p.ltY[i]).attr("font-family", FONT).attr("font-size", 22.5)
      .attr("fill", "#000").text(p.leg[i]);
  });
});

svg.append("text").attr("x", (xRange[0] + xRange[1]) / 2 - 4).attr("y", 1316).attr("text-anchor", "middle")
  .attr("font-family", FONT).attr("font-size", 22).attr("fill", "#000").text("Hour (MST)");
</script>
</body></html>
